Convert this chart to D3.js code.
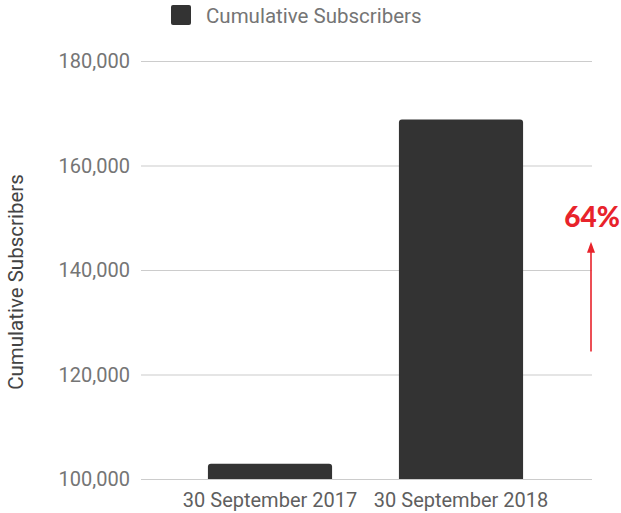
<!DOCTYPE html>
<html>
<head>
<meta charset="utf-8">
<script src="https://cdn.jsdelivr.net/npm/d3@7"></script>
<style>
  body { margin: 0; background: #fff; }
  text { font-family: Roboto, "Open Sans", sans-serif; }
</style>
</head>
<body>
<div id="wrapper"></div>
<script>
var categories = ["30 September 2017", "30 September 2018"];
var subscribers = [102900, 168800];
var yTicks = [100000, 120000, 140000, 160000, 180000];
var seriesName = "Cumulative Subscribers";
var growthLabel = "64%";

var width = 621, height = 513;

var svg = d3.select("#wrapper")
  .append("svg")
  .attr("width", width)
  .attr("height", height);

// Scales
var y = d3.scaleLinear()
  .domain([100000, 180000])
  .range([479, 61]);

var x = d3.scaleBand()
  .domain(categories)
  .range([174.5, 556.5])
  .paddingInner(0.35)
  .paddingOuter(0.175);

// Gridlines
svg.append("g")
  .selectAll("line")
  .data(yTicks)
  .enter()
  .append("line")
  .attr("x1", 141)
  .attr("x2", 592)
  .attr("y1", function (d) { return y(d) + 0.5; })
  .attr("y2", function (d) { return y(d) + 0.5; })
  .attr("stroke", "#cccccc")
  .attr("stroke-width", 1.2);

// Y tick labels
svg.append("g")
  .selectAll("text")
  .data(yTicks)
  .enter()
  .append("text")
  .attr("x", 130)
  .attr("y", function (d) { return y(d); })
  .attr("dy", "0.35em")
  .attr("text-anchor", "end")
  .attr("fill", "#757575")
  .style("font-size", "20px")
  .text(d3.format(","));

// Y axis title
svg.append("text")
  .attr("transform", "translate(23," + 282 + ") rotate(-90)")
  .attr("text-anchor", "middle")
  .attr("fill", "#444")
  .style("font-size", "20.5px")
  .text(seriesName);

// Bars
svg.append("g")
  .selectAll("path")
  .data(subscribers)
  .enter()
  .append("path")
  .attr("fill", "#333333")
  .attr("d", function (d, i) {
    var x0 = x(categories[i]), w = x.bandwidth();
    var top = y(d), bottom = y(100000), r = 3;
    return "M" + x0 + "," + bottom +
      "V" + (top + r) +
      "Q" + x0 + "," + top + " " + (x0 + r) + "," + top +
      "H" + (x0 + w - r) +
      "Q" + (x0 + w) + "," + top + " " + (x0 + w) + "," + (top + r) +
      "V" + bottom + "Z";
  });

// X labels
svg.append("g")
  .selectAll("text")
  .data(categories)
  .enter()
  .append("text")
  .attr("x", function (d) { return x(d) + x.bandwidth() / 2; })
  .attr("y", 507)
  .attr("text-anchor", "middle")
  .attr("fill", "#5f5f5f")
  .style("font-size", "20px")
  .text(function (d) { return d; });

// Legend
svg.append("rect")
  .attr("x", 171)
  .attr("y", 5)
  .attr("width", 20)
  .attr("height", 20)
  .attr("rx", 2)
  .attr("fill", "#333333");

svg.append("text")
  .attr("x", 206)
  .attr("y", 23)
  .attr("fill", "#757575")
  .style("font-size", "20.5px")
  .text(seriesName);

// Growth arrow annotation
var red = "#e8232b";
var ax = 591;
svg.append("line")
  .attr("x1", ax)
  .attr("x2", ax)
  .attr("y1", y(124400))
  .attr("y2", y(143500))
  .attr("stroke", red)
  .attr("stroke-width", 1.6);

svg.append("path")
  .attr("fill", red)
  .attr("d", "M" + (ax - 4) + "," + (y(143500) + 1) + "L" + ax + "," + (y(143500) - 10) + "L" + (ax + 4) + "," + (y(143500) + 1) + "Z");

svg.append("text")
  .attr("x", ax + 1)
  .attr("y", 227)
  .attr("text-anchor", "middle")
  .attr("fill", red)
  .style("font-family", "Lato, 'Open Sans', sans-serif")
  .style("font-weight", "900")
  .style("font-size", "28px")
  .text(growthLabel);
</script>
</body>
</html>
